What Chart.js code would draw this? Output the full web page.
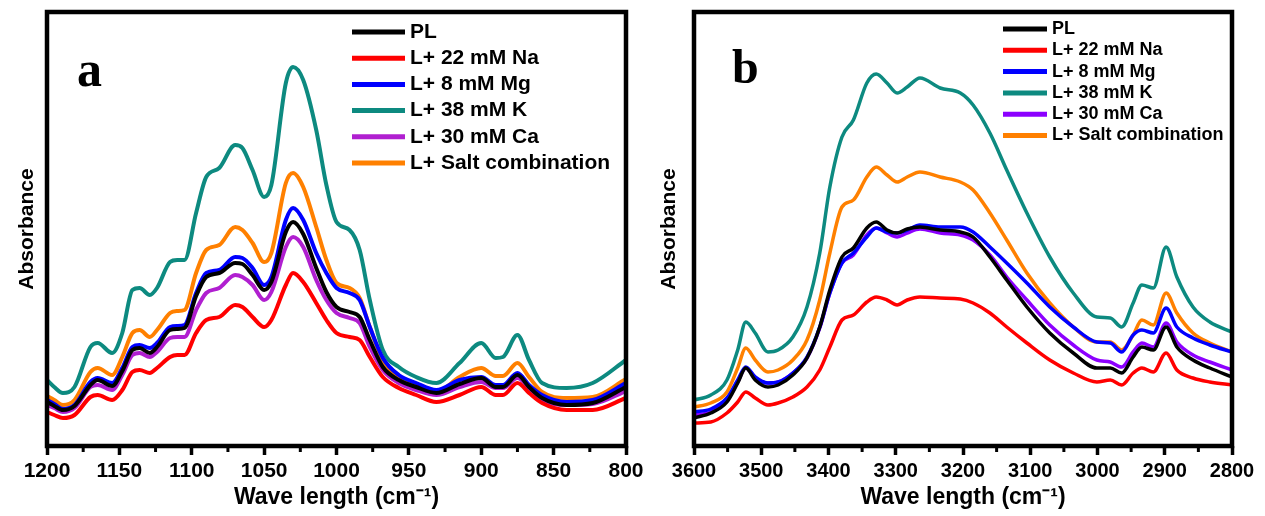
<!DOCTYPE html>
<html>
<head>
<meta charset="utf-8">
<script src="https://cdn.jsdelivr.net/npm/chart.js@4.4.1/dist/chart.umd.min.js"></script>
<style>
  html, body { margin: 0; padding: 0; background: #fff; }
  #wrap { position: relative; width: 1265px; height: 516px; }
  .panel { position: absolute; top: 0; height: 516px; }
  #pa { left: 0; width: 655px; }
  #pb { left: 655px; width: 610px; }
</style>
</head>
<body>
<div id="wrap">
  <div class="panel" id="pa"><canvas id="chartA"></canvas></div>
  <div class="panel" id="pb"><canvas id="chartB"></canvas></div>
</div>
<script>
// ====== DATA (absorbance, arbitrary units) ======
const seriesNames = ['PL', 'L+ 22 mM Na', 'L+ 8 mM Mg', 'L+ 38 mM K', 'L+ 30 mM Ca', 'L+ Salt combination'];

// panel a : 1200 - 800 cm-1
const waveA = [1200, 1195, 1189, 1181, 1170, 1165, 1155, 1148, 1141, 1136, 1129, 1124, 1115, 1110, 1105, 1097, 1090, 1081, 1070, 1065, 1058, 1050, 1045, 1035, 1030, 1023, 1014, 1007, 1000, 991, 984, 977, 968, 957, 945, 931, 915, 900, 890, 885, 875, 867, 858, 841, 823, 800];
const plA   = [44, 40, 36, 40, 61, 66, 60, 75, 96, 98, 93, 99, 116, 117, 118, 150, 169, 173, 183, 182, 171, 156, 164, 214, 224, 212, 178, 154, 139, 134, 129, 106, 79, 66, 59, 53, 62, 68, 59, 59, 71, 59, 48, 41, 43, 59];
const naA   = [34, 31, 28, 31, 49, 51, 46, 56, 74, 76, 73, 78, 89, 91, 91, 113, 126, 129, 141, 139, 129, 119, 126, 161, 173, 164, 143, 126, 113, 109, 106, 89, 69, 58, 51, 44, 51, 59, 51, 51, 63, 53, 43, 36, 36, 48];
const mgA   = [46, 42, 37, 41, 64, 68, 63, 78, 99, 101, 98, 103, 119, 120, 121, 153, 173, 176, 189, 188, 178, 161, 169, 226, 238, 226, 193, 173, 158, 153, 146, 119, 88, 71, 63, 56, 66, 69, 61, 61, 73, 61, 51, 44, 46, 63];
const kA    = [66, 59, 53, 59, 99, 103, 93, 113, 156, 158, 151, 158, 184, 186, 186, 233, 269, 278, 301, 298, 276, 249, 261, 363, 379, 366, 316, 261, 224, 216, 196, 146, 96, 79, 69, 63, 83, 103, 88, 89, 111, 86, 63, 58, 63, 86];
const caA   = [41, 38, 34, 38, 59, 61, 56, 71, 91, 93, 89, 94, 108, 109, 109, 136, 153, 158, 171, 169, 161, 146, 154, 199, 209, 199, 166, 146, 133, 128, 123, 99, 76, 63, 56, 51, 59, 64, 58, 58, 68, 58, 46, 41, 42, 55];
const saltA = [50, 46, 41, 46, 74, 78, 71, 89, 113, 116, 109, 116, 133, 135, 136, 173, 196, 201, 219, 216, 203, 184, 193, 263, 273, 259, 219, 186, 163, 158, 148, 119, 86, 69, 61, 54, 69, 78, 70, 70, 83, 69, 54, 48, 49, 67];
const ticksA = [1200, 1150, 1100, 1050, 1000, 950, 900, 850, 800];

// panel b : 3600 - 2800 cm-1
const waveB = [3600, 3575, 3551, 3535, 3523, 3509, 3490, 3475, 3453, 3432, 3413, 3398, 3380, 3363, 3343, 3329, 3313, 3298, 3283, 3264, 3234, 3204, 3185, 3160, 3135, 3105, 3071, 3036, 3001, 2981, 2964, 2947, 2934, 2917, 2898, 2882, 2858, 2833, 2800];
const plB   = [28, 33, 44, 63, 78, 66, 59, 61, 71, 88, 119, 156, 189, 198, 218, 224, 216, 213, 217, 219, 216, 214, 209, 189, 166, 139, 113, 93, 78, 78, 73, 89, 99, 96, 119, 99, 86, 78, 69];
const naB   = [23, 24, 33, 44, 54, 48, 41, 43, 49, 59, 76, 99, 126, 131, 144, 149, 146, 141, 146, 149, 148, 147, 143, 133, 119, 103, 86, 73, 64, 66, 61, 73, 78, 74, 93, 76, 68, 64, 61];
const mgB   = [34, 37, 48, 66, 79, 69, 63, 64, 73, 89, 119, 153, 183, 193, 209, 218, 214, 213, 216, 221, 219, 219, 214, 199, 183, 163, 139, 119, 104, 103, 94, 111, 116, 113, 138, 119, 108, 101, 94];
const kB    = [46, 51, 66, 96, 124, 113, 94, 96, 109, 139, 193, 259, 309, 326, 363, 372, 363, 353, 359, 368, 358, 353, 341, 313, 276, 233, 189, 153, 129, 128, 119, 143, 161, 158, 199, 169, 139, 124, 114];
const caB   = [31, 34, 46, 64, 78, 68, 63, 64, 73, 88, 118, 153, 183, 191, 211, 218, 213, 209, 213, 217, 213, 211, 206, 191, 169, 146, 121, 101, 86, 84, 79, 94, 103, 99, 123, 104, 91, 84, 76];
const saltB = [39, 43, 54, 78, 98, 86, 74, 76, 86, 106, 146, 193, 239, 246, 269, 279, 271, 264, 269, 274, 269, 264, 256, 233, 206, 173, 143, 119, 104, 104, 96, 111, 126, 121, 153, 133, 113, 103, 94];
const ticksB = [3600, 3500, 3400, 3300, 3200, 3100, 3000, 2900, 2800];

const colorsA = ['#000000', '#ff0000', '#0000ff', '#0d8a80', '#b01fd0', '#ff8000'];
const colorsB = ['#000000', '#ff0000', '#0000ff', '#0d8a80', '#8c00ff', '#ff8000'];
// =====================================================================

const SANS = '"Liberation Sans", Arial, sans-serif';
const SERIF = '"Liberation Serif", "Times New Roman", serif';

// kotak, minor tick, huruf panel dan legenda
function framePlugin(o) {
    return {
        id: 'frame',
        afterDatasetsDraw(chart) {
            const { ctx, chartArea: a } = chart;
            const xs = chart.scales.x;
            ctx.save();
            ctx.strokeStyle = '#000';
            ctx.lineWidth = 4.5;
            ctx.strokeRect(a.left, a.top, a.right - a.left, a.bottom - a.top);

            ctx.lineWidth = 3;
            for (let i = 0; i < o.ticks.length - 1; i++) {
                const px = xs.getPixelForValue((o.ticks[i] + o.ticks[i + 1]) / 2);
                ctx.beginPath();
                ctx.moveTo(px, a.bottom);
                ctx.lineTo(px, a.bottom + 6);
                ctx.stroke();
            }

            ctx.fillStyle = '#000';
            ctx.font = 'bold ' + o.letterSize + 'px ' + SERIF;
            ctx.textBaseline = 'alphabetic';
            ctx.fillText(o.letter, a.left + o.letterX, a.top + o.letterY);

            ctx.font = 'bold ' + o.legendSize + 'px ' + SANS;
            ctx.textBaseline = 'middle';
            chart.data.datasets.forEach((ds, i) => {
                const y = a.top + o.legendTop + i * o.legendGap;
                ctx.strokeStyle = ds.borderColor;
                ctx.lineWidth = 5;
                ctx.beginPath();
                ctx.moveTo(a.left + o.lineX0, y);
                ctx.lineTo(a.left + o.lineX1, y);
                ctx.stroke();
                ctx.fillStyle = '#000';
                ctx.fillText(ds.label, a.left + o.textX, y);
            });
            ctx.restore();
        }
    };
}

function makeChart(id, cfg) {
    return new Chart(document.getElementById(id), {
        type: 'line',
        data: {
            datasets: cfg.series.map((s, i) => ({
                label: seriesNames[i],
                data: cfg.wave.map((w, j) => ({ x: w, y: s[j] })),
                borderColor: cfg.colors[i],
                borderWidth: cfg.lineWidth,
                pointRadius: 0,
                fill: false,
                cubicInterpolationMode: 'monotone',
                borderJoinStyle: 'round'
            }))
        },
        options: {
            responsive: true,
            maintainAspectRatio: false,
            animation: false,
            layout: { padding: { left: cfg.padL, right: cfg.padR, top: 12, bottom: 0 } },
            plugins: { legend: { display: false }, tooltip: { enabled: false } },
            scales: {
                x: {
                    type: 'linear',
                    reverse: true,
                    min: cfg.min,
                    max: cfg.max,
                    afterBuildTicks: s => { s.ticks = cfg.ticks.map(v => ({ value: v })); },
                    afterFit: s => { s.height = 70; },
                    border: { display: false },
                    grid: { drawOnChartArea: false, drawTicks: true, tickLength: 9, tickWidth: 3.5, tickColor: '#000' },
                    ticks: {
                        color: '#000',
                        font: { family: SANS, size: cfg.tickSize, weight: 'bold' },
                        padding: 4, maxRotation: 0, autoSkip: false,
                        callback: v => String(v)
                    },
                    title: { display: true, text: 'Wave length (cm⁻¹)', color: '#000', font: { family: SANS, size: 23, weight: 'bold' }, padding: { top: 0, bottom: 5 } }
                },
                y: {
                    min: 0,
                    max: 434,
                    afterFit: s => { s.width = cfg.yW; },
                    border: { display: false },
                    grid: { display: false },
                    ticks: { display: false },
                    title: { display: true, text: 'Absorbance', color: '#000', font: { family: SANS, size: 21, weight: 'bold' }, padding: { top: 0, bottom: 0 } }
                }
            }
        },
        plugins: [framePlugin(cfg.frame)]
    });
}

makeChart('chartA', {
    wave: waveA, series: [plA, naA, mgA, kA, caA, saltA], colors: colorsA,
    min: 800, max: 1200, ticks: ticksA, tickSize: 21, lineWidth: 4,
    padL: 15, yW: 32, padR: 29,
    frame: { ticks: ticksA, letter: 'a', letterSize: 50, letterX: 30, letterY: 74,
             legendSize: 21, legendTop: 20, legendGap: 26.2, lineX0: 305, lineX1: 358, textX: 363 }
});

makeChart('chartB', {
    wave: waveB, series: [plB, naB, mgB, kB, caB, saltB], colors: colorsB,
    min: 2800, max: 3600, ticks: ticksB, tickSize: 20, lineWidth: 3.5,
    padL: 2, yW: 37, padR: 33,
    frame: { ticks: ticksB, letter: 'b', letterSize: 48, letterX: 38, letterY: 71,
             legendSize: 18, legendTop: 17, legendGap: 21.3, lineX0: 309, lineX1: 353, textX: 358 }
});
</script>
</body>
</html>
